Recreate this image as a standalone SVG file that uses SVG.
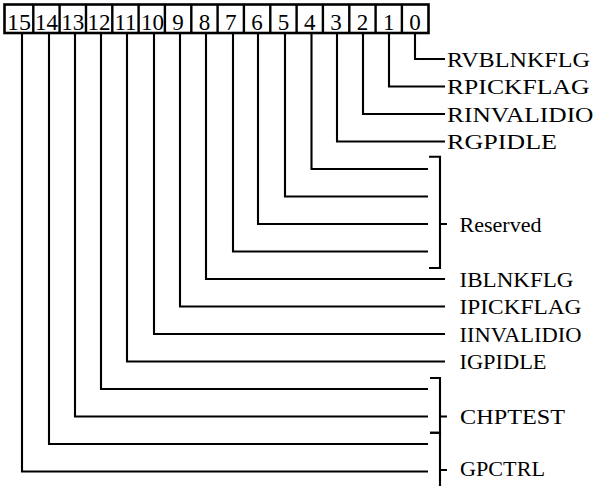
<svg xmlns="http://www.w3.org/2000/svg" width="599" height="486" viewBox="0 0 599 486">
<style>
.bx{fill:#fff;stroke:#000;stroke-width:2.6}
.dv{stroke:#000;stroke-width:2.4}
.n{font-family:"Liberation Serif","Times New Roman",serif;font-size:23px;fill:#000;text-anchor:middle}
.l{font-family:"Liberation Serif","Times New Roman",serif;font-size:21.5px;fill:#000}
.c{fill:none;stroke:#000;stroke-width:2.1}
</style>
<rect width="599" height="486" fill="#fff"/>
<g id="register">
<rect class="bx" x="4.5" y="4.5" width="424" height="28.5"/>
<path class="dv" d="M33.3 4.5V33M59.6 4.5V33M86 4.5V33M112.3 4.5V33M138.6 4.5V33M164.9 4.5V33M191.3 4.5V33M217.6 4.5V33M243.9 4.5V33M270.3 4.5V33M296.6 4.5V33M322.9 4.5V33M349.3 4.5V33M375.6 4.5V33M401.9 4.5V33"/>
</g>
<g id="bit15"><text class="n" x="19" y="29.5" textLength="24" lengthAdjust="spacingAndGlyphs">15</text></g>
<g id="bit14"><text class="n" x="46.5" y="29.5" textLength="23" lengthAdjust="spacingAndGlyphs">14</text></g>
<g id="bit13"><text class="n" x="72.8" y="29.5" textLength="23" lengthAdjust="spacingAndGlyphs">13</text></g>
<g id="bit12"><text class="n" x="99.1" y="29.5" textLength="23" lengthAdjust="spacingAndGlyphs">12</text></g>
<g id="bit11"><text class="n" x="125.5" y="29.5" textLength="22" lengthAdjust="spacingAndGlyphs">11</text></g>
<g id="bit10"><text class="n" x="152.5" y="29.5" textLength="23" lengthAdjust="spacingAndGlyphs">10</text></g>
<g id="bit9"><text class="n" x="178.1" y="29.5">9</text></g>
<g id="bit8"><text class="n" x="204.4" y="29.5">8</text></g>
<g id="bit7"><text class="n" x="230.8" y="29.5">7</text></g>
<g id="bit6"><text class="n" x="257.1" y="29.5">6</text></g>
<g id="bit5"><text class="n" x="283.4" y="29.5">5</text></g>
<g id="bit4"><text class="n" x="309.8" y="29.5">4</text></g>
<g id="bit3"><text class="n" x="336.1" y="29.5">3</text></g>
<g id="bit2"><text class="n" x="362.4" y="29.5">2</text></g>
<g id="bit1"><text class="n" x="388.7" y="29.5">1</text></g>
<g id="bit0"><text class="n" x="415.1" y="29.5">0</text></g>
<g id="connectors" class="c">
<path d="M415 33V59H445"/>
<path d="M389 33V86.5H445"/>
<path d="M363 33V114H445"/>
<path d="M337 33V141.5H445"/>
<path d="M311.5 33V169H428"/>
<path d="M285 33V196.5H428"/>
<path d="M258 33V224H428"/>
<path d="M233 33V251.5H428"/>
<path d="M206 33V279H445"/>
<path d="M180 33V306.5H445"/>
<path d="M154 33V334H445"/>
<path d="M127 33V361.5H445"/>
<path d="M101 33V389H428"/>
<path d="M75 33V416.5H428"/>
<path d="M49 33V444H428"/>
<path d="M22 33V471.5H428"/>
<path d="M429 156.7H440V268H429M440 224H447"/>
<path d="M430 378H440V432.7H430M440 416.5H447"/>
<path d="M430 432.7H440V486M440 470H447"/>
</g>
<g id="labels">
<text class="l" x="447" y="66.5" textLength="143" lengthAdjust="spacingAndGlyphs">RVBLNKFLG</text>
<text class="l" x="447" y="94" textLength="142.5" lengthAdjust="spacingAndGlyphs">RPICKFLAG</text>
<text class="l" x="447" y="121.5" textLength="146.5" lengthAdjust="spacingAndGlyphs">RINVALIDIO</text>
<text class="l" x="447" y="148.8" textLength="110" lengthAdjust="spacingAndGlyphs">RGPIDLE</text>
<text class="l" x="459.5" y="231.5" textLength="82" lengthAdjust="spacingAndGlyphs">Reserved</text>
<text class="l" x="459.5" y="286.5" textLength="114" lengthAdjust="spacingAndGlyphs">IBLNKFLG</text>
<text class="l" x="459.5" y="314" textLength="122" lengthAdjust="spacingAndGlyphs">IPICKFLAG</text>
<text class="l" x="459.5" y="341.5" textLength="122" lengthAdjust="spacingAndGlyphs">IINVALIDIO</text>
<text class="l" x="459.5" y="369" textLength="87" lengthAdjust="spacingAndGlyphs">IGPIDLE</text>
<text class="l" x="460" y="423.5" textLength="105" lengthAdjust="spacingAndGlyphs">CHPTEST</text>
<text class="l" x="460" y="476" textLength="85" lengthAdjust="spacingAndGlyphs">GPCTRL</text>
</g>
</svg>
